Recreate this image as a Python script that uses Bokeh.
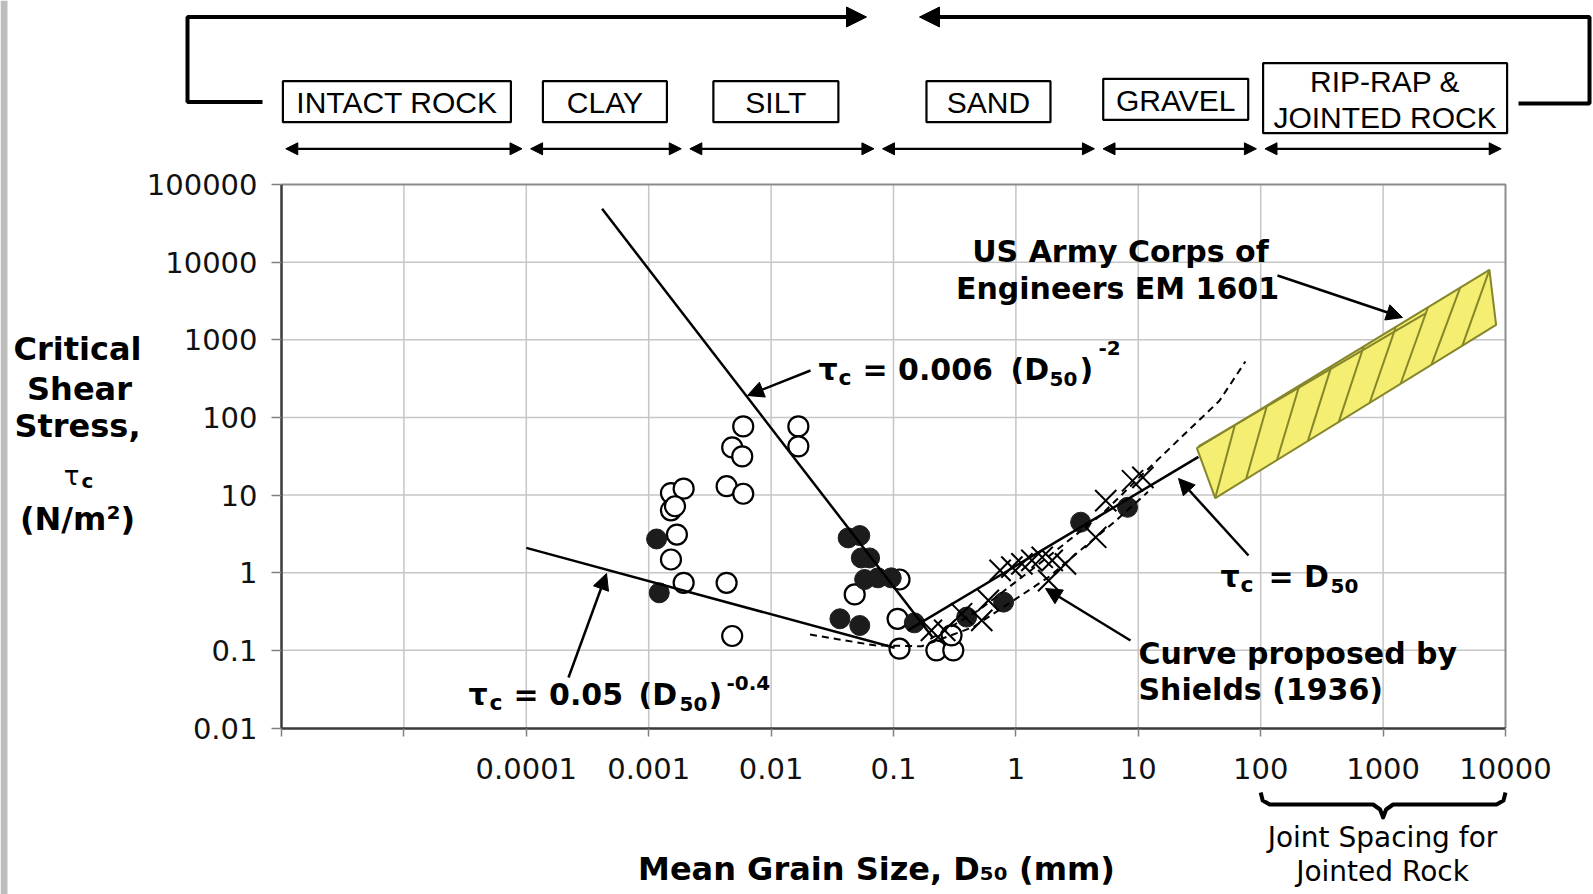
import numpy as np
from bokeh.plotting import figure
from bokeh.models import (Range1d, LogAxis, FixedTicker, CustomJSTickFormatter,
                          Label, Arrow, NormalHead, BoxAnnotation)
from bokeh.core.properties import value
from bokeh.embed import file_html
from bokeh.resources import INLINE

# ---------------- data ----------------
x_ticks = [1e-6, 1e-5, 1e-4, 1e-3, 1e-2, 1e-1, 1, 10, 100, 1000, 10000]
y_ticks = [0.01, 0.1, 1, 10, 100, 1000, 10000, 100000]

soil_classes = ["INTACT ROCK", "CLAY", "SILT", "SAND", "GRAVEL", "RIP-RAP &\nJOINTED ROCK"]
class_bounds_mm = [1e-6, 1e-4, 0.002, 0.075, 4.75, 100, 1e4]

open_d50 = [0.00592, 0.0167, 0.00481, 0.00581, 0.0167, 0.00433, 0.00592, 0.00152,
            0.00193, 0.00152, 0.00164, 0.00170, 0.00152, 0.00193, 0.00433, 0.00481,
            0.0482, 0.112, 0.108, 0.112, 0.224, 0.308, 0.298]
open_tau = [76.6, 76.6, 41.1, 31.5, 42.4, 13.0, 10.4, 10.6,
            12.1, 6.37, 7.18, 3.10, 1.48, 0.741, 0.741, 0.153,
            0.525, 0.818, 0.255, 0.105, 0.100, 0.100, 0.156]

filled_d50 = [0.00116, 0.00122, 0.0426, 0.0530, 0.0546, 0.0638, 0.0581, 0.0746,
              0.0958, 0.0365, 0.0530, 0.148, 0.396, 0.793, 3.38, 8.17]
filled_tau = [2.72, 0.551, 2.81, 3.01, 1.55, 1.55, 0.818, 0.859,
              0.859, 0.255, 0.209, 0.226, 0.268, 0.418, 4.47, 6.96]

shields_data_d50 = [0.204, 0.262, 0.36, 0.526, 0.596, 0.743, 0.927, 1.12, 1.35,
                    1.64, 1.98, 2.54, 1.85, 4.49, 5.42, 8.97, 10.9]
shields_data_tau = [0.181, 0.181, 0.296, 0.243, 0.44, 1.07, 1.18, 1.30, 1.44,
                    1.58, 1.44, 1.30, 0.79, 2.86, 8.47, 15.3, 16.9]

# tau_c = 0.006 (D50)^-2
fit_clay_d50 = [4.16e-4, 0.21]
fit_clay_tau = [48600, 0.145]
# tau_c = 0.05 (D50)^-0.4
fit_rock_d50 = [1e-4, 0.102]
fit_rock_tau = [2.09, 0.108]
# tau_c = D50
fit_coarse_d50 = [0.131, 31.0]
fit_coarse_tau = [0.181, 31.0]

# Shields (1936) curve, two dashed bounds
shields_lo_d50 = [0.0208, 0.0701, 0.17, 0.45, 1.85, 6.55, 12.0]
shields_lo_tau = [0.160, 0.116, 0.113, 0.20, 0.877, 4.69, 11.0]
shields_hi_d50 = [0.2, 0.5, 1.5, 5.0, 10.2, 46, 75]
shields_hi_tau = [0.14, 0.33, 1.25, 5.6, 16.9, 164, 526]

# US Army Corps of Engineers EM 1601 band (TL, TR, BR, BL)
usace_d50 = [30.1, 7390, 8380, 42.5]
usace_tau = [40.3, 7960, 1560, 9.14]
usace_inner_d50 = [31.0, 2240]
usace_inner_tau = [42.4, 2200]

joint_spacing_mm = [100, 1000, 10000]

# ---------------- layout / style ----------------
W, H = 1593, 894
PX0, PX1 = 281.0, 1505.0      # page px of the x-range ends of the plot box
PY0, PY1 = 184.0, 727.5       # page px of the y-range ends of the plot box
X_MIN, X_MAX = x_ticks[0], x_ticks[-1]
Y_MIN, Y_MAX = y_ticks[0], y_ticks[-1]
DECX = (PX1 - PX0) / np.log10(X_MAX / X_MIN)
DECY = (PY1 - PY0) / np.log10(Y_MAX / Y_MIN)


def xd(px):
    return 10 ** (np.log10(X_MIN) + (px - PX0) / DECX)


def yd(py):
    return 10 ** (np.log10(Y_MAX) - (py - PY0) / DECY)


def xpx(x):
    return PX0 + (np.log10(x) - np.log10(X_MIN)) * DECX


BOLD = "DejaVu Sans"
REG = "Liberation Sans"

p = figure(width=W, height=H, x_axis_type="log", y_axis_type="log",
           x_range=Range1d(xd(0), xd(W)), y_range=Range1d(yd(H), yd(0)),
           x_axis_location=None, y_axis_location=None, title=None,
           toolbar_location=None, output_backend="svg", min_border=0,
           outline_line_color=None, background_fill_color="white",
           border_fill_color="white")
p.xgrid.visible = False
p.ygrid.visible = False

# grey page strip at the very left, as in the picture
p.add_layout(BoxAnnotation(left=0, right=7, left_units="screen", right_units="screen",
                           fill_color="#bdbdbd", fill_alpha=1.0, line_color=None))


def label(text, px, py, size, font=BOLD, style="bold", align="left", baseline="middle"):
    p.add_layout(Label(x=px, y=H - py, x_units="screen", y_units="screen",
                       text=text, text_font=font, text_font_size=f"{size}px",
                       text_font_style=style, text_align=align, text_baseline=baseline,
                       text_color="black"))


def arrow(px0, py0, px1, py1, size=16, lw=2.5):
    p.add_layout(Arrow(x_start=px0, y_start=H - py0, x_end=px1, y_end=H - py1,
                       start_units="screen", end_units="screen",
                       end=NormalHead(size=size, fill_color="black", line_color="black", line_width=1),
                       line_width=lw, line_color="black"))


# ---------------- grid & box ----------------
vx = [t for t in x_ticks if X_MIN < t < X_MAX]
p.segment(x0=vx, y0=[Y_MIN] * len(vx), x1=vx, y1=[Y_MAX] * len(vx),
          line_color="#c6c6c6", line_width=1.5)
hy = [t for t in y_ticks if Y_MIN < t < Y_MAX]
p.segment(x0=[X_MIN] * len(hy), y0=hy, x1=[X_MAX] * len(hy), y1=hy,
          line_color="#c6c6c6", line_width=1.5)
p.line(x=[X_MIN, X_MAX, X_MAX], y=[Y_MAX, Y_MAX, Y_MIN], line_color="#8c8c8c", line_width=2)

fmt = CustomJSTickFormatter(code="""
if (tick < 5e-5) { return ""; }
if (tick >= 1) { return tick.toFixed(0); }
return tick.toPrecision(1);
""")

xaxis = LogAxis(fixed_location=Y_MIN, bounds=(X_MIN, X_MAX),
                ticker=FixedTicker(ticks=x_ticks), formatter=fmt,
                axis_line_color="#3a3a3a", axis_line_width=2.5,
                major_tick_line_color="#808080", major_tick_line_width=1.5,
                major_tick_out=8, major_tick_in=0, minor_tick_line_color=None,
                major_label_text_font="DejaVu Sans", major_label_text_font_size="29px",
                major_label_text_color="#111111", major_label_standoff=22)
p.add_layout(xaxis, "below")
yaxis = LogAxis(fixed_location=X_MIN, bounds=(Y_MIN, Y_MAX),
                ticker=FixedTicker(ticks=y_ticks), formatter=fmt,
                axis_line_color="#3a3a3a", axis_line_width=2.5,
                major_tick_line_color="#808080", major_tick_line_width=1.5,
                major_tick_out=10, major_tick_in=0, minor_tick_line_color=None,
                major_label_text_font="DejaVu Sans", major_label_text_font_size="29px",
                major_label_text_color="#111111", major_label_standoff=14)
p.add_layout(yaxis, "left")

# ---------------- USACE band ----------------
p.patch(usace_d50, usace_tau, fill_color="#f4ef72", line_color="#86862a", line_width=2)
HATCH_FRAC = np.array([0.0, 0.11, 0.22, 0.33, 0.44, 0.55, 0.66, 0.77, 0.88])
HATCH_SHIFT = 0.13
bd, bt = np.log10(usace_d50), np.log10(usace_tau)
top_f = np.clip(HATCH_FRAC + HATCH_SHIFT, 0, 1)
p.segment(x0=10 ** (bd[3] + HATCH_FRAC * (bd[2] - bd[3])), y0=10 ** (bt[3] + HATCH_FRAC * (bt[2] - bt[3])),
          x1=10 ** (bd[0] + top_f * (bd[1] - bd[0])), y1=10 ** (bt[0] + top_f * (bt[1] - bt[0])),
          line_color="#86862a", line_width=2)
p.line(usace_inner_d50, usace_inner_tau, line_color="#86862a", line_width=2)

# ---------------- data points ----------------
p.scatter(open_d50, open_tau, marker="circle", size=20, fill_color="white",
          line_color="black", line_width=2.2)
p.scatter(filled_d50, filled_tau, marker="circle", size=20, fill_color="#1c1c1c",
          line_color="#1c1c1c", line_width=1)
p.scatter(shields_data_d50, shields_data_tau, marker="x", size=30,
          line_color="black", line_width=2)

# ---------------- fitted lines ----------------
p.line(fit_clay_d50, fit_clay_tau, line_color="black", line_width=2.5)
p.line(fit_rock_d50, fit_rock_tau, line_color="black", line_width=2.5)
p.line(fit_coarse_d50, fit_coarse_tau, line_color="black", line_width=2.5)
p.line(shields_lo_d50, shields_lo_tau, line_color="black", line_width=2, line_dash="7 5")
p.line(shields_hi_d50, shields_hi_tau, line_color="black", line_width=2, line_dash="7 5")

# ---------------- header: classes ----------------
ROW_Y = yd(148.3)
GAP = 0.035
for i in range(len(class_bounds_mm) - 1):
    p.add_layout(Arrow(x_start=class_bounds_mm[i] * 10 ** GAP, x_end=class_bounds_mm[i + 1] / 10 ** GAP,
                       y_start=ROW_Y, y_end=ROW_Y,
                       start=NormalHead(size=12, fill_color="black", line_color="black", line_width=1),
                       end=NormalHead(size=12, fill_color="black", line_color="black", line_width=1),
                       line_width=2.2, line_color="black"))

mids = [np.sqrt(class_bounds_mm[i] * class_bounds_mm[i + 1]) for i in range(len(soil_classes))]
box_dx = [-7, -1, -6, 0, -4, 2]
box_x = [xd(xpx(m) + d) for m, d in zip(mids, box_dx)]
box_w = [228, 124, 125, 124, 145, 244]
box_h = [41, 41, 41, 41, 41, 70]
box_cy = [101.2, 101.2, 101.2, 101.2, 98.8, 97.7]
p.rect(x=box_x, y=[yd(c) for c in box_cy], width=box_w, height=box_h,
       width_units="screen", height_units="screen",
       fill_color="white", line_color="black", line_width=2.2)
p.text(x=box_x, y=[yd(c + 1) for c in box_cy], text=soil_classes,
       text_align="center", text_baseline="middle", text_font=value(REG),
       text_font_size="30px", text_color="black", text_line_height=1.1)

# top bracket
p.line(x=[xd(262), xd(187), xd(187), xd(850)], y=[yd(101.5), yd(101.5), yd(16.5), yd(16.5)],
       line_color="black", line_width=4)
p.line(x=[xd(935), xd(1589), xd(1589), xd(1518)], y=[yd(16.5), yd(16.5), yd(103), yd(103)],
       line_color="black", line_width=4)
arrow(840, 16.5, 866, 16.5, size=20, lw=4)
arrow(945, 16.5, 919, 16.5, size=20, lw=4)

# brace for joint spacing
L, M, R = [xpx(v) for v in joint_spacing_mm]
bx = [L, L + 2, L + 9, M - 10, M - 3, M, M + 3, M + 10, R - 9, R - 2, R]
by = [792, 800, 804, 804, 809, 817, 809, 804, 804, 800, 792]
p.line(x=[xd(v) for v in bx], y=[yd(v) for v in by], line_color="black", line_width=4,
       line_join="round")

# ---------------- text annotations ----------------
# tau_c = 0.006 (D50)^-2
label("τ", 818, 369, 30)
label("c", 838, 377, 22)
label("= 0.006", 862, 369, 30)
label("(D", 1010, 369, 30)
label("50", 1049, 378, 20)
label(")", 1079, 369, 30)
label("-2", 1098, 347, 20)
arrow(810, 370, 747, 395)

# tau_c = 0.05 (D50)^-0.4
label("τ", 468, 694, 30)
label("c", 489, 702, 22)
label("= 0.05", 513, 694, 30)
label("(D", 638, 694, 30)
label("50", 679, 703, 20)
label(")", 708, 694, 30)
label("-0.4", 726, 682, 20)
arrow(568, 677, 606, 573)

# tau_c = D50
label("τ", 1220, 576, 30)
label("c", 1240, 584, 22)
label("= D", 1268, 576, 30)
label("50", 1330, 585, 20)
arrow(1248, 555, 1178, 478)

# Shields
label("Curve proposed by", 1138, 653, 30)
label("Shields (1936)", 1138, 689, 30)
arrow(1130, 640, 1045, 588)

# USACE
label("US Army Corps of", 1120, 251, 30, align="center")
label("Engineers EM 1601", 1117, 288, 30, align="center")
arrow(1277, 275, 1402, 317)

# y axis title
label("Critical", 77, 348.5, 32, align="center")
label("Shear", 79, 388, 32, align="center")
label("Stress,", 77, 425, 32, align="center")
label("τ", 79, 475, 26, style="normal", align="right")
label("c", 81, 480, 20)
label("(N/m²)", 77, 518, 32, align="center")

# x axis title
label("Mean Grain Size, D₅₀ (mm)", 876, 868, 32, align="center")
label("Joint Spacing for", 1382, 837, 28, font="DejaVu Sans", style="normal", align="center")
label("Jointed Rock", 1382, 871, 28, font="DejaVu Sans", style="normal", align="center")

open("out.html", "w").write(file_html(p, INLINE))
